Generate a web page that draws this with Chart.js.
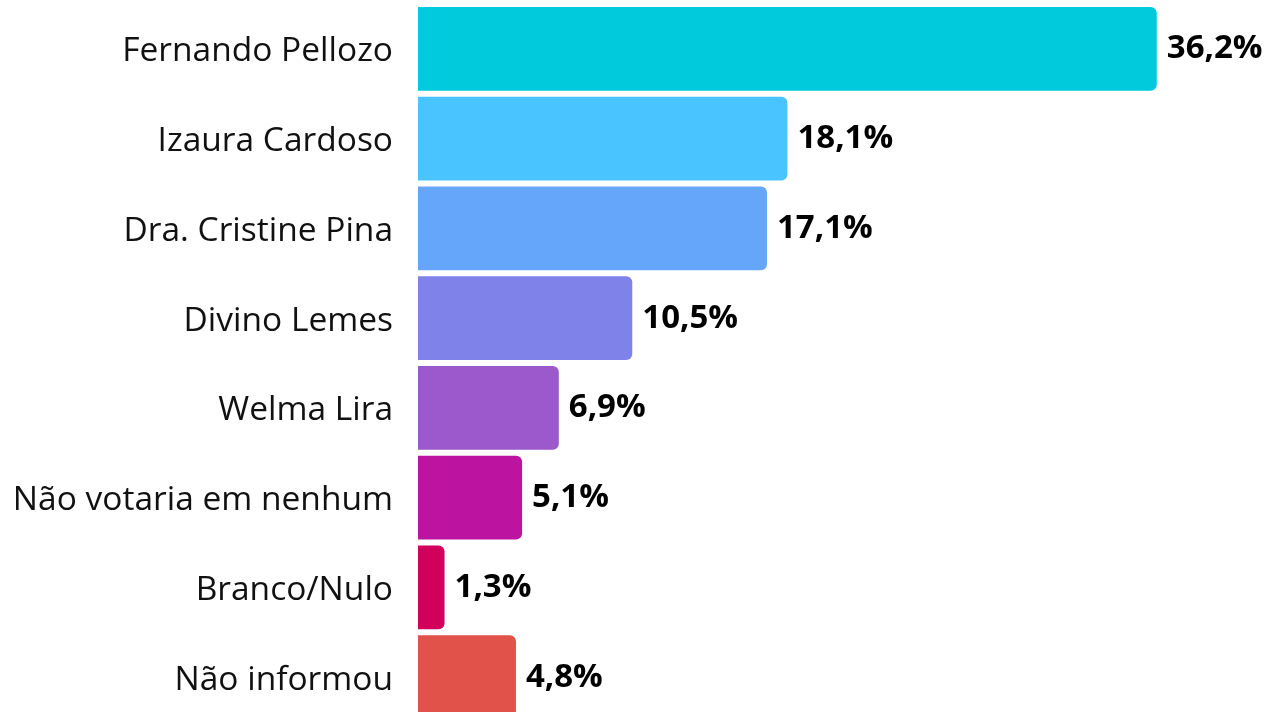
<!DOCTYPE html>
<html>
<head>
<meta charset="utf-8">
<script src="https://cdn.jsdelivr.net/npm/chart.js@4/dist/chart.umd.min.js"></script>
<style>
html,body{margin:0;padding:0;background:#fff;overflow:hidden;width:1288px;height:712px;}
#wrap{position:relative;width:1288px;height:722px;}
</style>
</head>
<body>
<div id="wrap"><canvas id="c" width="1288" height="722"></canvas></div>
<script>
const categories = ["Fernando Pellozo","Izaura Cardoso","Dra. Cristine Pina","Divino Lemes","Welma Lira","Não votaria em nenhum","Branco/Nulo","Não informou"];
const values = [36.2, 18.1, 17.1, 10.5, 6.9, 5.1, 1.3, 4.8];
const valueLabels = ["36,2%","18,1%","17,1%","10,5%","6,9%","5,1%","1,3%","4,8%"];
const colors = ["#00CADC","#49C4FF","#65A6FA","#7F82E8","#9B59CB","#BC13A0","#D1005B","#E0524A"];

const valuePlugin = {
  id: 'valueLabels',
  afterDatasetsDraw(chart) {
    const ctx = chart.ctx;
    const meta = chart.getDatasetMeta(0);
    ctx.save();
    ctx.font = 'bold 33px "Open Sans"';
    ctx.fillStyle = '#000';
    ctx.textAlign = 'left';
    ctx.textBaseline = 'middle';
    meta.data.forEach((bar, i) => {
      ctx.fillText(valueLabels[i], bar.x + 10, bar.y);
    });
    ctx.restore();
  }
};

new Chart(document.getElementById('c'), {
  type: 'bar',
  data: {
    labels: categories,
    datasets: [{
      data: values,
      backgroundColor: colors,
      borderRadius: {topLeft:0, bottomLeft:0, topRight:6, bottomRight:6},
      borderSkipped: false,
      barPercentage: 0.935,
      categoryPercentage: 1.0
    }]
  },
  options: {
    indexAxis: 'y',
    responsive: false,
    animation: false,
    layout: {padding: {top: 4, bottom: 0, left: 0, right: 0}},
    plugins: {legend: {display: false}, tooltip: {enabled: false}},
    scales: {
      x: {
        display: false,
        min: 0,
        max: 42.63
      },
      y: {
        afterFit(scale) { scale.width = 418; scale.paddingTop = 0; scale.paddingBottom = 0; },
        grid: {display: false, drawTicks: false},
        border: {display: false},
        ticks: {
          padding: 25,
          labelOffset: 3,
          color: '#111',
          font: {family: '"Open Sans"', size: 33.5}
        }
      }
    }
  },
  plugins: [valuePlugin]
});
</script>
</body>
</html>
